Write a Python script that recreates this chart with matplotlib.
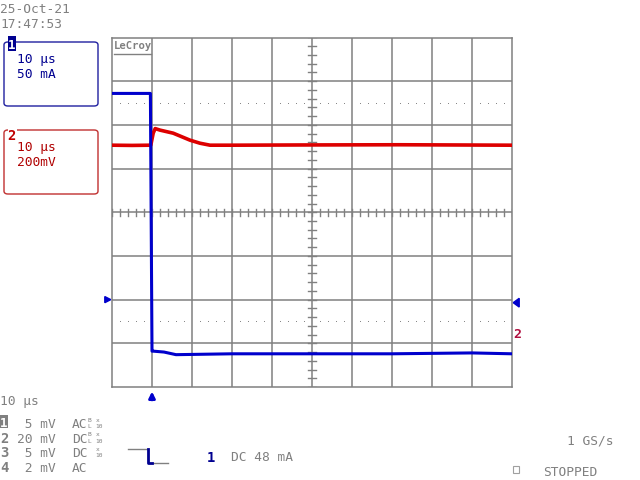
import numpy as np
import matplotlib.pyplot as plt
from matplotlib.patches import FancyBboxPatch, Rectangle, Polygon
from matplotlib.transforms import blended_transform_factory

# scope screen: 10 div x 8 div, 10 us/div
t_div = 10.0           # us per division
ch1_scale = 50.0       # mA per division
ch2_scale = 200.0      # mV per division
ch1_ground = -2.0      # divisions
ch2_ground = -3.0

# channel 1 (current, mA)
t_ch1 = [-10, -3, -0.4, 0.0, 0.4, 3, 6, 20, 40, 60, 80, 90]
i_ch1 = [236, 236, 236, -59, -59, -60, -63, -62, -62, -62, -61, -62]

# channel 2 (voltage, mV)
t_ch2 = [-10, -5, -0.3, 0.3, 0.8, 2, 5.3, 9.5, 12, 14.5, 20, 37, 62, 90]
v_ch2 = [907, 906, 907, 962, 983, 976, 962, 930, 916, 907, 907, 908, 909, 907]

grey = '#808080'
navy = '#000090'
blue = '#0000cc'
red = '#dd0000'
mono = 'DejaVu Sans Mono'
W, H = 640, 480

def px(x, y):
    return x / W, 1 - y / H

fig = plt.figure(figsize=(6.4, 4.8), dpi=100)
ax = fig.add_axes([112 / W, 1 - 387 / H, 400 / W, 349.5 / H])
ax.set_xlim(-10, 90)
ax.set_ylim(-4, 4)
ax.set_xticks([])
ax.set_yticks([])
for s in ax.spines.values():
    s.set_color(grey)
    s.set_linewidth(1.1)

# graticule
for k in range(1, 10):
    ax.axvline(-10 + k * t_div, color=grey, lw=1.1, zorder=1)
for k in range(-3, 4):
    ax.axhline(k, color=grey, lw=1.1, zorder=1)
for tt in np.arange(-10, 90.1, 2):
    ax.plot([tt, tt], [-0.075, 0.075], color=grey, lw=1.0, zorder=1)
for yy in np.arange(-4, 4.01, 0.2):
    ax.plot([38.9, 41.1], [yy, yy], color=grey, lw=1.0, zorder=1)
dots_t = [-10 + 10 * d + o for d in range(10) for o in (2, 4, 6, 8)]
for yy in (2.5, -2.5):
    ax.plot(dots_t, [yy] * len(dots_t), ls='none', marker='s', ms=0.7,
            mec='none', color=grey, zorder=1)

# traces
ax.plot(t_ch2, np.array(v_ch2) / ch2_scale + ch2_ground, color=red, lw=2.6, zorder=3)
ax.plot(t_ch1, np.array(i_ch1) / ch1_scale + ch1_ground, color=blue, lw=2.2, zorder=4)

ax.text(0.005, 0.99, 'LeCroy', transform=ax.transAxes, family=mono, weight='bold',
        fontsize=7.6, color=grey, va='top', ha='left')
ax.plot([0.005, 0.097], [0.952, 0.952], transform=ax.transAxes, color=grey, lw=1)

# markers around the grid
bx = blended_transform_factory(ax.transData, ax.transAxes)
ax.annotate('', xy=(0, -0.005), xytext=(0, -0.045), xycoords=bx, textcoords=bx,
            arrowprops=dict(arrowstyle='-|>', color=blue, lw=2, mutation_scale=9))
by_l = blended_transform_factory(ax.transAxes, ax.transData)
ax.add_patch(Polygon([(-0.018, ch1_ground + 0.07), (-0.018, ch1_ground - 0.07),
                      (-0.003, ch1_ground)], closed=True, color=blue,
                     transform=by_l, clip_on=False))
ax.add_patch(Polygon([(1.018, ch1_ground + 0.03), (1.018, ch1_ground - 0.17),
                      (1.003, ch1_ground - 0.07)], closed=True, color=blue,
                     transform=by_l, clip_on=False))
ax.text(1.003, ch2_ground + 0.05, '2', transform=by_l, family=mono, weight='bold',
        fontsize=9.5, color='#b01040', va='bottom', ha='left')

# date / time
fig.text(*px(0, 13), '25-Oct-21', family=mono, fontsize=9.3, color=grey)
fig.text(*px(0, 28), '17:47:53', family=mono, fontsize=9.3, color=grey)

# channel boxes
for (y0, col, tcol, lines) in [(42, '#2020a0', navy, ['10 \u03bcs', '50 mA']),
                                (130, '#c03030', '#b00000', ['10 \u03bcs', '200mV'])]:
    x0, y1 = px(4, y0 + 64)
    x1, yt = px(98, y0)
    fig.patches.append(FancyBboxPatch((x0, y1), x1 - x0, yt - y1,
                                      boxstyle='round,pad=0,rounding_size=0.006',
                                      transform=fig.transFigure, fc='white',
                                      ec=col, lw=1.0))
    fig.text(*px(17, y0 + 21), lines[0], family=mono, fontsize=9.3, color=tcol)
    fig.text(*px(17, y0 + 36), lines[1], family=mono, fontsize=9.3, color=tcol)

fig.patches.append(Rectangle(px(8, 51), 8 / W, 15 / H, transform=fig.transFigure,
                             fc=navy, ec='none'))
fig.text(*px(12, 49), '1', family=mono, weight='bold', fontsize=9,
         color='white', ha='center')
fig.patches.append(Rectangle(px(8, 133), 9 / W, 6 / H, transform=fig.transFigure,
                             fc='white', ec='none'))
fig.text(*px(7.5, 140), '2', family=mono, weight='bold', fontsize=10,
         color='#c00000')

# bottom block
fig.text(*px(0, 405), '10 \u03bcs', family=mono, fontsize=9.3, color=grey)
rows = [('1', ' 5 mV', 'AC', 'B', 'L'), ('2', '20 mV', 'DC', 'B', 'L'),
        ('3', ' 5 mV', 'DC', '', ''), ('4', ' 2 mV', 'AC', '', '')]
for k, (lab, volts, cpl, sup, sub) in enumerate(rows):
    yb = 428 + k * 14.7
    if k == 0:
        fig.patches.append(Rectangle(px(0, yb), 8 / W, 13 / H,
                                     transform=fig.transFigure, fc=grey, ec='none'))
        fig.text(*px(4, yb - 1), lab, family=mono, weight='bold', fontsize=9,
                 color='white', ha='center')
    else:
        fig.text(*px(0, yb), lab, family=mono, weight='bold', fontsize=10,
                 color=grey)
    fig.text(*px(17, yb), volts, family=mono, fontsize=9.3, color=grey)
    fig.text(*px(72, yb), cpl, family=mono, fontsize=9.3, color=grey)
    if sup:
        fig.text(*px(87, yb - 6.5), sup, family=mono, fontsize=4.5, color=grey)
        fig.text(*px(87, yb), sub, family=mono, fontsize=4.5, color=grey)
    if k < 3:
        fig.text(*px(96, yb - 6.5), 'x', family=mono, fontsize=4.5, color=grey)
        fig.text(*px(95, yb), '10', family=mono, fontsize=4.5, color=grey)

# trigger symbol
fig.add_artist(plt.Line2D([128 / W, 147 / W], [1 - 449 / H] * 2, color=grey, lw=1))
fig.add_artist(plt.Line2D([152 / W, 168 / W], [1 - 463 / H] * 2, color=grey, lw=1))
fig.add_artist(plt.Line2D([148 / W, 148 / W, 152 / W],
                          [1 - 449 / H, 1 - 463 / H, 1 - 463 / H], color=navy, lw=2))
fig.text(*px(207, 462), '1', family=mono, weight='bold', fontsize=10, color=navy)
fig.text(*px(231, 461), 'DC 48 mA', family=mono, fontsize=9.3, color=grey)

fig.text(*px(567, 445), '1 GS/s', family=mono, fontsize=9.3, color=grey)
fig.patches.append(Rectangle(px(513, 473), 6 / W, 7 / H, transform=fig.transFigure,
                             fc='none', ec='#a0a0a0', lw=0.8))
fig.text(*px(543, 476), 'STOPPED', family=mono, fontsize=9.3, color=grey)

plt.savefig('out.png', dpi=100)
